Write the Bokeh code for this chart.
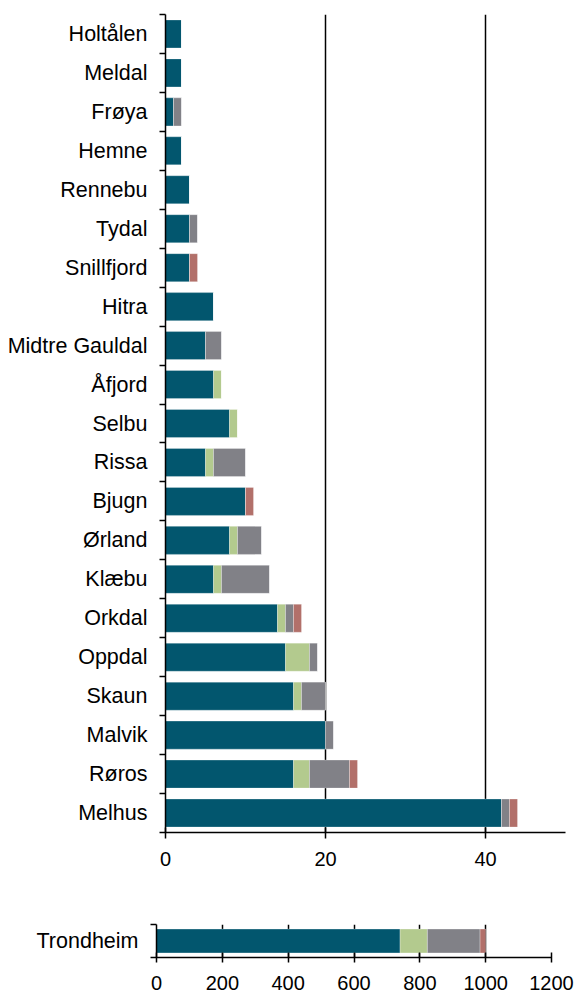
from bokeh.plotting import figure
from bokeh.models import FixedTicker, ColumnDataSource, Range1d
from bokeh.embed import file_html
from bokeh.resources import INLINE

categories = ["Holtålen", "Meldal", "Frøya", "Hemne", "Rennebu", "Tydal", "Snillfjord",
              "Hitra", "Midtre Gauldal", "Åfjord", "Selbu", "Rissa", "Bjugn", "Ørland",
              "Klæbu", "Orkdal", "Oppdal", "Skaun", "Malvik", "Røros", "Melhus"]
serie_a = [2, 2, 1, 2, 3, 3, 3, 6, 5, 6, 8, 5, 10, 8, 6, 14, 15, 16, 20, 16, 42]
serie_b = [0, 0, 0, 0, 0, 0, 0, 0, 0, 1, 1, 1, 0, 1, 1, 1, 3, 1, 0, 2, 0]
serie_c = [0, 0, 1, 0, 0, 1, 0, 0, 2, 0, 0, 4, 0, 3, 6, 1, 1, 3, 1, 5, 1]
serie_d = [0, 0, 0, 0, 0, 0, 1, 0, 0, 0, 0, 0, 1, 0, 0, 1, 0, 0, 0, 1, 1]

trond_label = ["Trondheim"]
trond_a = [740]
trond_b = [83]
trond_c = [160]
trond_d = [17]

main_ticks = [0, 20, 40]
trond_ticks = [0, 200, 400, 600, 800, 1000, 1200]

colors = ["#02566e", "#b3ca8e", "#818187", "#b2706a"]
keys = ["a", "b", "c", "d"]
FONT = "Liberation Sans"


def style_axes(p, xticks, ylabels, ys, standoff, tick_out):
    p.xaxis.ticker = FixedTicker(ticks=xticks)
    p.xgrid.ticker = FixedTicker(ticks=xticks)
    p.xgrid.grid_line_color = "black"
    p.xgrid.grid_line_width = 1.5
    p.ygrid.grid_line_color = None
    p.outline_line_color = None
    xa = p.xaxis[0]
    xa.axis_line_width = 1.5
    xa.axis_line_color = "black"
    xa.major_tick_line_width = 1.5
    xa.major_tick_in = 5
    xa.major_tick_out = tick_out
    xa.major_label_standoff = standoff
    xa.major_label_text_font = FONT
    xa.major_label_text_font_size = "20px"
    xa.major_label_text_color = "black"
    ya = p.yaxis[0]
    bounds = [v - 0.5 for v in ys] + [max(ys) + 0.5]
    ya.ticker = FixedTicker(ticks=ys, minor_ticks=bounds)
    ya.major_label_overrides = {y: lab for y, lab in zip(ys, ylabels)}
    ya.major_tick_line_color = None
    ya.major_tick_in = 0
    ya.major_tick_out = 0
    ya.minor_tick_in = 0
    ya.minor_tick_out = 6
    ya.minor_tick_line_width = 1.5
    ya.minor_tick_line_color = "black"
    ya.axis_line_width = 1.5
    ya.axis_line_color = "black"
    ya.major_label_standoff = 12
    ya.major_label_text_font = FONT
    ya.major_label_text_font_size = "21.5px"
    ya.major_label_text_color = "black"


n = len(categories)
ys = list(range(n))[::-1]
src = ColumnDataSource(dict(y=ys, a=serie_a, b=serie_b, c=serie_c, d=serie_d))

p1 = figure(frame_width=400, frame_height=818, output_backend="svg", toolbar_location=None,
            x_range=Range1d(0, 50), y_range=Range1d(-0.5, n - 0.5),
            min_border_left=165, min_border_right=12, min_border_top=14, min_border_bottom=50)
p1.hbar_stack(keys, y="y", height=0.72, color=colors, source=src,
              line_color="white", line_alpha=0.35, line_width=0.8)
style_axes(p1, main_ticks, categories, ys, 13, 6)

src2 = ColumnDataSource(dict(y=[0], a=trond_a, b=trond_b, c=trond_c, d=trond_d))
p2 = figure(frame_width=395, frame_height=33, output_backend="svg", toolbar_location=None,
            x_range=Range1d(0, 1200), y_range=Range1d(-0.5, 0.5),
            min_border_left=156, min_border_right=26, min_border_top=42, min_border_bottom=35)
p2.hbar_stack(keys, y="y", height=0.72, color=colors, source=src2,
              line_color="white", line_alpha=0.35, line_width=0.8)
style_axes(p2, trond_ticks, trond_label, [0], 13, 5)

open("out.html", "w").write(file_html([p1, p2], INLINE))
